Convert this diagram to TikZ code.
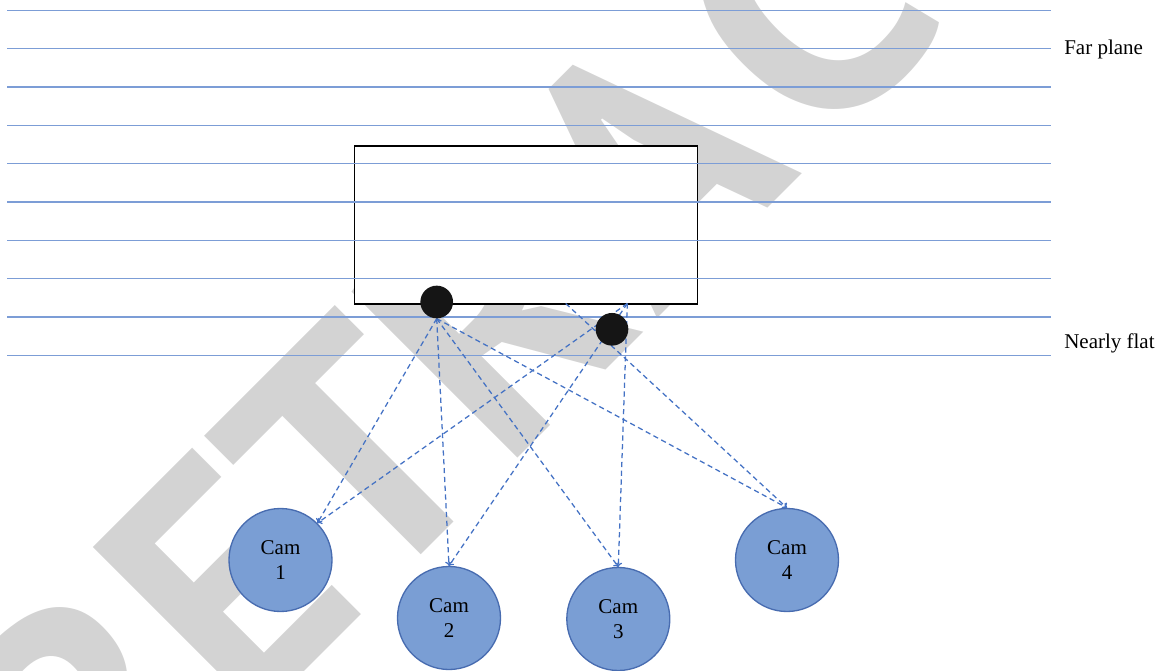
\documentclass[tikz,border=0pt]{standalone}
\usepackage{fontspec}
\setmainfont{Liberation Serif}
\newfontfamily\wmfont{PT Sans}
\usetikzlibrary{arrows.meta}
\definecolor{planeblue}{RGB}{124,157,214}
\definecolor{rayblue}{RGB}{68,114,196}
\definecolor{camfill}{RGB}{122,158,212}
\definecolor{camedge}{RGB}{72,108,176}
\definecolor{wmgray}{RGB}{211,211,211}
\definecolor{dotblack}{RGB}{21,21,21}
\pgfdeclarelayer{wmk}
\pgfdeclarelayer{back}
\pgfdeclarelayer{rays}
\pgfsetlayers{wmk,back,rays,main}
\begin{document}
\begin{tikzpicture}[x=0.75pt,y=-0.75pt,
  plane/.style={draw=planeblue,line width=1pt},
  ray/.style={draw=rayblue,line width=0.95pt,dash pattern=on 3.9pt off 2.7pt,-{To[length=3.2pt,width=5.5pt]}},
  cam/.style={circle,draw=camedge,line width=1pt,fill=camfill,minimum size=77.25pt,inner sep=0pt,align=center,font=\fontsize{15.75}{18.75}\selectfont},
  ptdot/.style={circle,fill=dotblack,minimum size=24.5pt,inner sep=0pt},
  wm/.style={text=wmgray,font=\wmfont\bfseries\fontsize{254}{254}\selectfont,rotate=45,anchor=base,inner sep=0pt},
  lbl/.style={anchor=base west,inner sep=0pt,font=\fontsize{15.75}{18.75}\selectfont},
  boxstyle/.style={draw=black,fill=white,line width=1pt,minimum width=257.5pt,minimum height=118.5pt,inner sep=0pt}]
\useasboundingbox (0,0) rectangle (1161,671);
% watermark
\begin{pgfonlayer}{wmk}
\begin{scope}
\clip (0,0) rectangle (1161,671);
\node[wm] (w1) at (172.5,803.3) {R};
\node[wm] (w2) at (309.0,666.8) {E};
\node[wm] (w3) at (437.7,538.1) {T};
\node[wm] (w4) at (575.6,400.2) {R};
\node[wm] (w5) at (729.7,246.1) {A};
\node[wm] (w6) at (885.3,90.5) {C};
\node[wm] (w7) at (1024.6,-48.8) {T};
\node[wm] (w8) at (1153.4,-177.5) {E};
\node[wm] (w9) at (1305.4,-329.5) {D};
\end{scope}
\end{pgfonlayer}
% box and planes
\begin{pgfonlayer}{back}
\node[boxstyle] (box) at (526,225) {};
\foreach \k in {0,...,9}
  \draw[plane] (7,{10.3+38.33*\k}) -- (1051,{10.3+38.33*\k});
\end{pgfonlayer}
% points and cameras
\node[ptdot] (d1) at (436.7,302) {};
\node[ptdot] (d2) at (612,329.3) {};
\node[cam] (c1) at (280.5,560) {Cam\\1};
\node[cam] (c2) at (449,618) {Cam\\2};
\node[cam] (c3) at (618.3,619) {Cam\\3};
\node[cam] (c4) at (787,560) {Cam\\4};
\node[lbl] (far) at (1064,54) {Far plane};
\node[lbl] (flat) at (1064,348) {Nearly flat};
% rays
\coordinate (s2) at (627.3,303.5);
\coordinate (s3) at (565.7,303.5);
\begin{pgfonlayer}{rays}
\draw[ray] (d1.south) -- (c1.north east);
\draw[ray] (d1.south) -- (c2.north);
\draw[ray] (d1.south) -- (c3.north);
\draw[ray] (d1.south) -- (c4.north);
\draw[ray] (s2) -- (c1.north east);
\draw[ray] (s2) -- (c2.north);
\draw[ray] (s2) -- (c3.north);
\draw[ray] (s3) -- (c4.north);
\end{pgfonlayer}
\end{tikzpicture}
\end{document}
